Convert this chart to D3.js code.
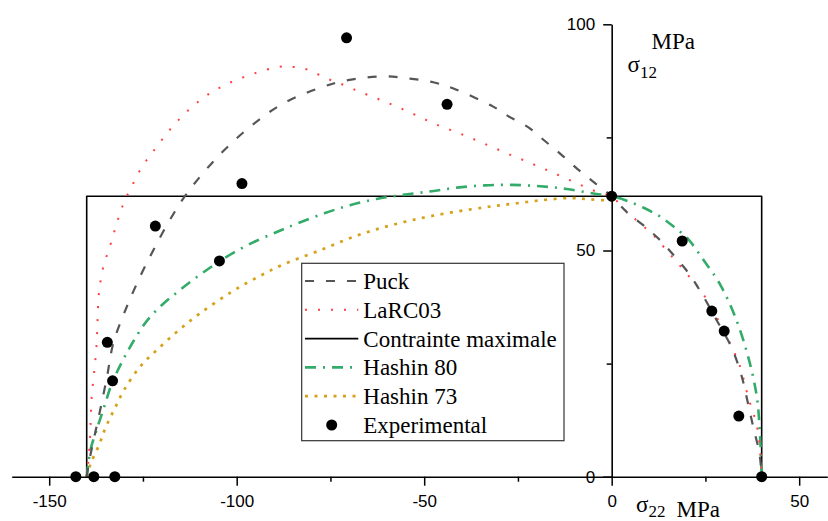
<!DOCTYPE html>
<html><head><meta charset="utf-8">
<script src="https://cdn.jsdelivr.net/npm/d3@7"></script>
<style>body{margin:0;background:#fff}svg{display:block}
.serif{font-family:"Liberation Serif","Times New Roman","DejaVu Serif",serif}
.sans{font-family:"Liberation Sans",Arial,sans-serif}</style>
</head><body>
<svg id="chart" width="828" height="521"></svg>
<script>
// ---- data ----
const xTicks = [-150, -100, -50, 0, 50];
const xMinorTicks = [-125, -75, -25, 25];
const yTicks = [0, 50, 100];
const yMinorTicks = [25, 75];

const puck = [[-140,0],[-139.1,4.4],[-136.6,14],[-134.6,22],[-132.9,29.5],[-129.3,37.6],[-125.6,44.5],[-122.2,50.1],[-118,56.5],[-113.3,62.6],[-105.3,70.5],[-96.5,77.3],[-87.6,82.5],[-76.9,86.2],[-70.7,87.6],[-60.9,88.5],[-53.8,88],[-47.6,87.2],[-42.2,85.8],[-31.6,81.8],[-27.6,79.7],[-22.2,77.2],[-17.8,74.2],[-13.3,71.1],[-9.1,68],[-4.6,65],[0,62],[4,58.5],[8.4,55.6],[12.9,52.3],[16.9,48.6],[20.5,45],[24,40.5],[28,34.6],[32,28.5],[34.7,22.1],[36.4,16],[37.8,10.8],[39.4,5.2],[40,0]];
const larc03 = [[-140,0],[-139.6,3],[-139.1,8.8],[-138.7,17.3],[-138,23.2],[-137.4,28.7],[-137.1,34.6],[-136.8,40.1],[-136.3,43.3],[-135.6,46.3],[-134.6,49],[-133.6,51.5],[-132.6,54.3],[-131.6,57],[-130.5,59.7],[-129.2,62.2],[-127.6,64.8],[-126,67.4],[-124,70],[-122,72.2],[-117.8,76.7],[-112.9,81],[-107.6,84.5],[-101.8,87.1],[-95.4,89.1],[-88.8,90.6],[-85.3,90.6],[-82,90.2],[-78.7,89.1],[-75.6,87.9],[-72.4,86.9],[-66,84.7],[-59.6,82.6],[-53.2,80.3],[-46.9,77.9],[-40.6,75.9],[-34.2,73.7],[-27.7,71.4],[-21.3,69.2],[-15.1,67],[-8.9,64.7],[-2.7,62.6],[0,62],[3.1,59.3],[7,56.4],[11.1,53.4],[15.5,49.2],[20,44.9],[24.3,40.5],[28.5,34.5],[32.4,28],[34.4,24],[35.7,19.8],[37,16],[38.5,12],[39.4,7.5],[40,0]];
const maxStress = [[-140,0],[-140,62],[40,62],[40,0]];
const hashin80 = [[-140,0],[-139,5.9],[-137.5,10],[-135.5,15],[-133.3,20.6],[-130.5,25.5],[-127.5,30],[-124,34.4],[-120,37.9],[-116,40.7],[-112,43.3],[-108,45.7],[-104.6,47.6],[-100.9,49.5],[-95.6,51.8],[-89.3,54.1],[-84.4,55.8],[-76.4,58.3],[-69.8,60],[-62.7,61.4],[-55.6,62.3],[-48,63.1],[-41.3,63.9],[-33.8,64.4],[-26.7,64.5],[-19.1,64.2],[-12,63.6],[-4.9,62.6],[0,62],[4,61],[8.4,59.5],[12.9,57.5],[16.5,55.3],[20.4,52.5],[24.4,48],[28.9,42.5],[32.9,35.4],[36.4,26.5],[38.7,17.7],[39.5,10],[40,0]];
const hashin73 = [[-140,0],[-138.9,3],[-136.7,7],[-134.9,11],[-132.5,15.1],[-130,19.2],[-125.8,24.3],[-121.8,27.6],[-116,32],[-109.8,36.1],[-101.3,40.9],[-94.2,44.2],[-87.6,46.9],[-77.3,50.2],[-67.6,53.4],[-57.8,55.8],[-47.6,57.7],[-34.2,59.5],[-26.7,60.3],[-18.7,61.1],[-11.1,61.6],[-5.8,61.3],[0,61]];
const expX = [-142.9,-138.1,-132.5,-133.1,-134.5,-121.7,-104.6,-98.6,-70.7,-43.9,0,18.8,26.7,30.0,33.9,40];
const expY = [0,0,0,21.2,29.7,55.4,47.7,64.8,97.0,82.3,62,52.1,36.6,32.2,13.4,0];

const seriesNames = ["Puck","LaRC03","Contrainte maximale","Hashin 80","Hashin 73","Experimental"];

// ---- styles ----
const styles = {
  "Puck": {data: puck, color:"#555555", width:2.2, dash:"9,12"},
  "LaRC03": {data: larc03, color:"#ff4040", width:2, dash:"2,11"},
  "Contrainte maximale": {data: maxStress, color:"#000000", width:1.6, dash:null, linear:true},
  "Hashin 80": {data: hashin80, color:"#33ab69", width:2.6, dash:"11,7,2,7"},
  "Hashin 73": {data: hashin73, color:"#d6a21c", width:2.7, dash:"3,6.5"}
};

const svg = d3.select("#chart");
const x = d3.scaleLinear().domain([-160, 57.5]).range([11.7, 827.3]);
const y = d3.scaleLinear().domain([0, 100]).range([476.7, 24.3]);

// curves
const curveLine = d3.line().x(d => x(d[0])).y(d => y(d[1])).curve(d3.curveCatmullRom.alpha(0.5));
const straight = d3.line().x(d => x(d[0])).y(d => y(d[1]));

const order = ["Contrainte maximale","Hashin 73","Hashin 80","LaRC03","Puck"];
order.forEach(name => {
  const s = styles[name];
  svg.append("path")
    .attr("d", (s.linear ? straight : curveLine)(s.data))
    .attr("fill","none")
    .attr("stroke", s.color)
    .attr("stroke-width", s.width)
    .attr("stroke-dasharray", s.dash)
    .attr("stroke-linejoin","round");
});

// axes
const gx = svg.append("g").attr("transform", `translate(0,${y(0)})`)
  .call(d3.axisBottom(x).tickValues(xTicks).tickSize(9).tickSizeOuter(0).tickFormat(d => String(d)));
gx.append("g").call(d3.axisBottom(x).tickValues(xMinorTicks).tickSize(5).tickSizeOuter(0).tickFormat(""))
  .select(".domain").remove();
const gy = svg.append("g").attr("transform", `translate(${x(0)},0)`)
  .call(d3.axisLeft(y).tickValues(yTicks).tickSize(8.5).tickSizeOuter(0).tickFormat(d => String(d)));
gy.append("g").call(d3.axisLeft(y).tickValues(yMinorTicks).tickSize(5).tickSizeOuter(0).tickFormat(""))
  .select(".domain").remove();

[gx, gy].forEach(g => {
  g.attr("font-family", null).attr("font-size", null);
  g.selectAll("path.domain").attr("stroke","#000").attr("stroke-width",1.6);
  g.selectAll(".tick line").attr("stroke","#000").attr("stroke-width",1.5);
  g.selectAll(".tick text").attr("fill","#000").attr("class","sans").style("font-size","17px");
});
gx.selectAll(".tick text").attr("y", 18);
gy.selectAll(".tick text").attr("x", -16.5);

// experimental points
svg.append("g").selectAll("circle").data(expX.map((v,i)=>[v, expY[i]])).join("circle")
  .attr("cx", d => x(d[0])).attr("cy", d => y(d[1])).attr("r", 5.5).attr("fill","#000");

// axis titles
const tx = svg.append("text").attr("class","serif").attr("x", 636).attr("y", 511.5)
  .style("font-size","23px").attr("fill","#000");
tx.append("tspan").text("σ");
tx.append("tspan").attr("dy", 5.5).style("font-size","17px").text("22");
tx.append("tspan").attr("x", 676.5).text("MPa");

const ty = svg.append("text").attr("class","serif").attr("x", 627.5).attr("y", 72)
  .style("font-size","23px").attr("fill","#000");
ty.append("tspan").text("σ");
ty.append("tspan").attr("dy", 6).style("font-size","17px").text("12");
svg.append("text").attr("class","serif").attr("x", 651.5).attr("y", 49)
  .style("font-size","23px").attr("fill","#000").text("MPa");

// legend
const lg = svg.append("g");
lg.append("rect").attr("x", 301.7).attr("y", 263.3).attr("width", 262.3).attr("height", 177.4)
  .attr("fill","#fff").attr("stroke","#333").attr("stroke-width",1.2);
seriesNames.forEach((name, i) => {
  const yy = 281 + i * 28.8;
  if (name === "Experimental") {
    lg.append("circle").attr("cx", 331.7).attr("cy", yy).attr("r", 5.5).attr("fill","#000");
  } else {
    const s = styles[name];
    lg.append("line").attr("x1", 305).attr("x2", 358.3).attr("y1", yy).attr("y2", yy)
      .attr("stroke", s.color).attr("stroke-width", s.width).attr("stroke-dasharray", s.dash);
  }
  lg.append("text").attr("class","serif").attr("x", 363.3).attr("y", yy).attr("dy", "0.35em")
    .style("font-size","23px").attr("fill","#000").text(name);
});
</script>
</body></html>
